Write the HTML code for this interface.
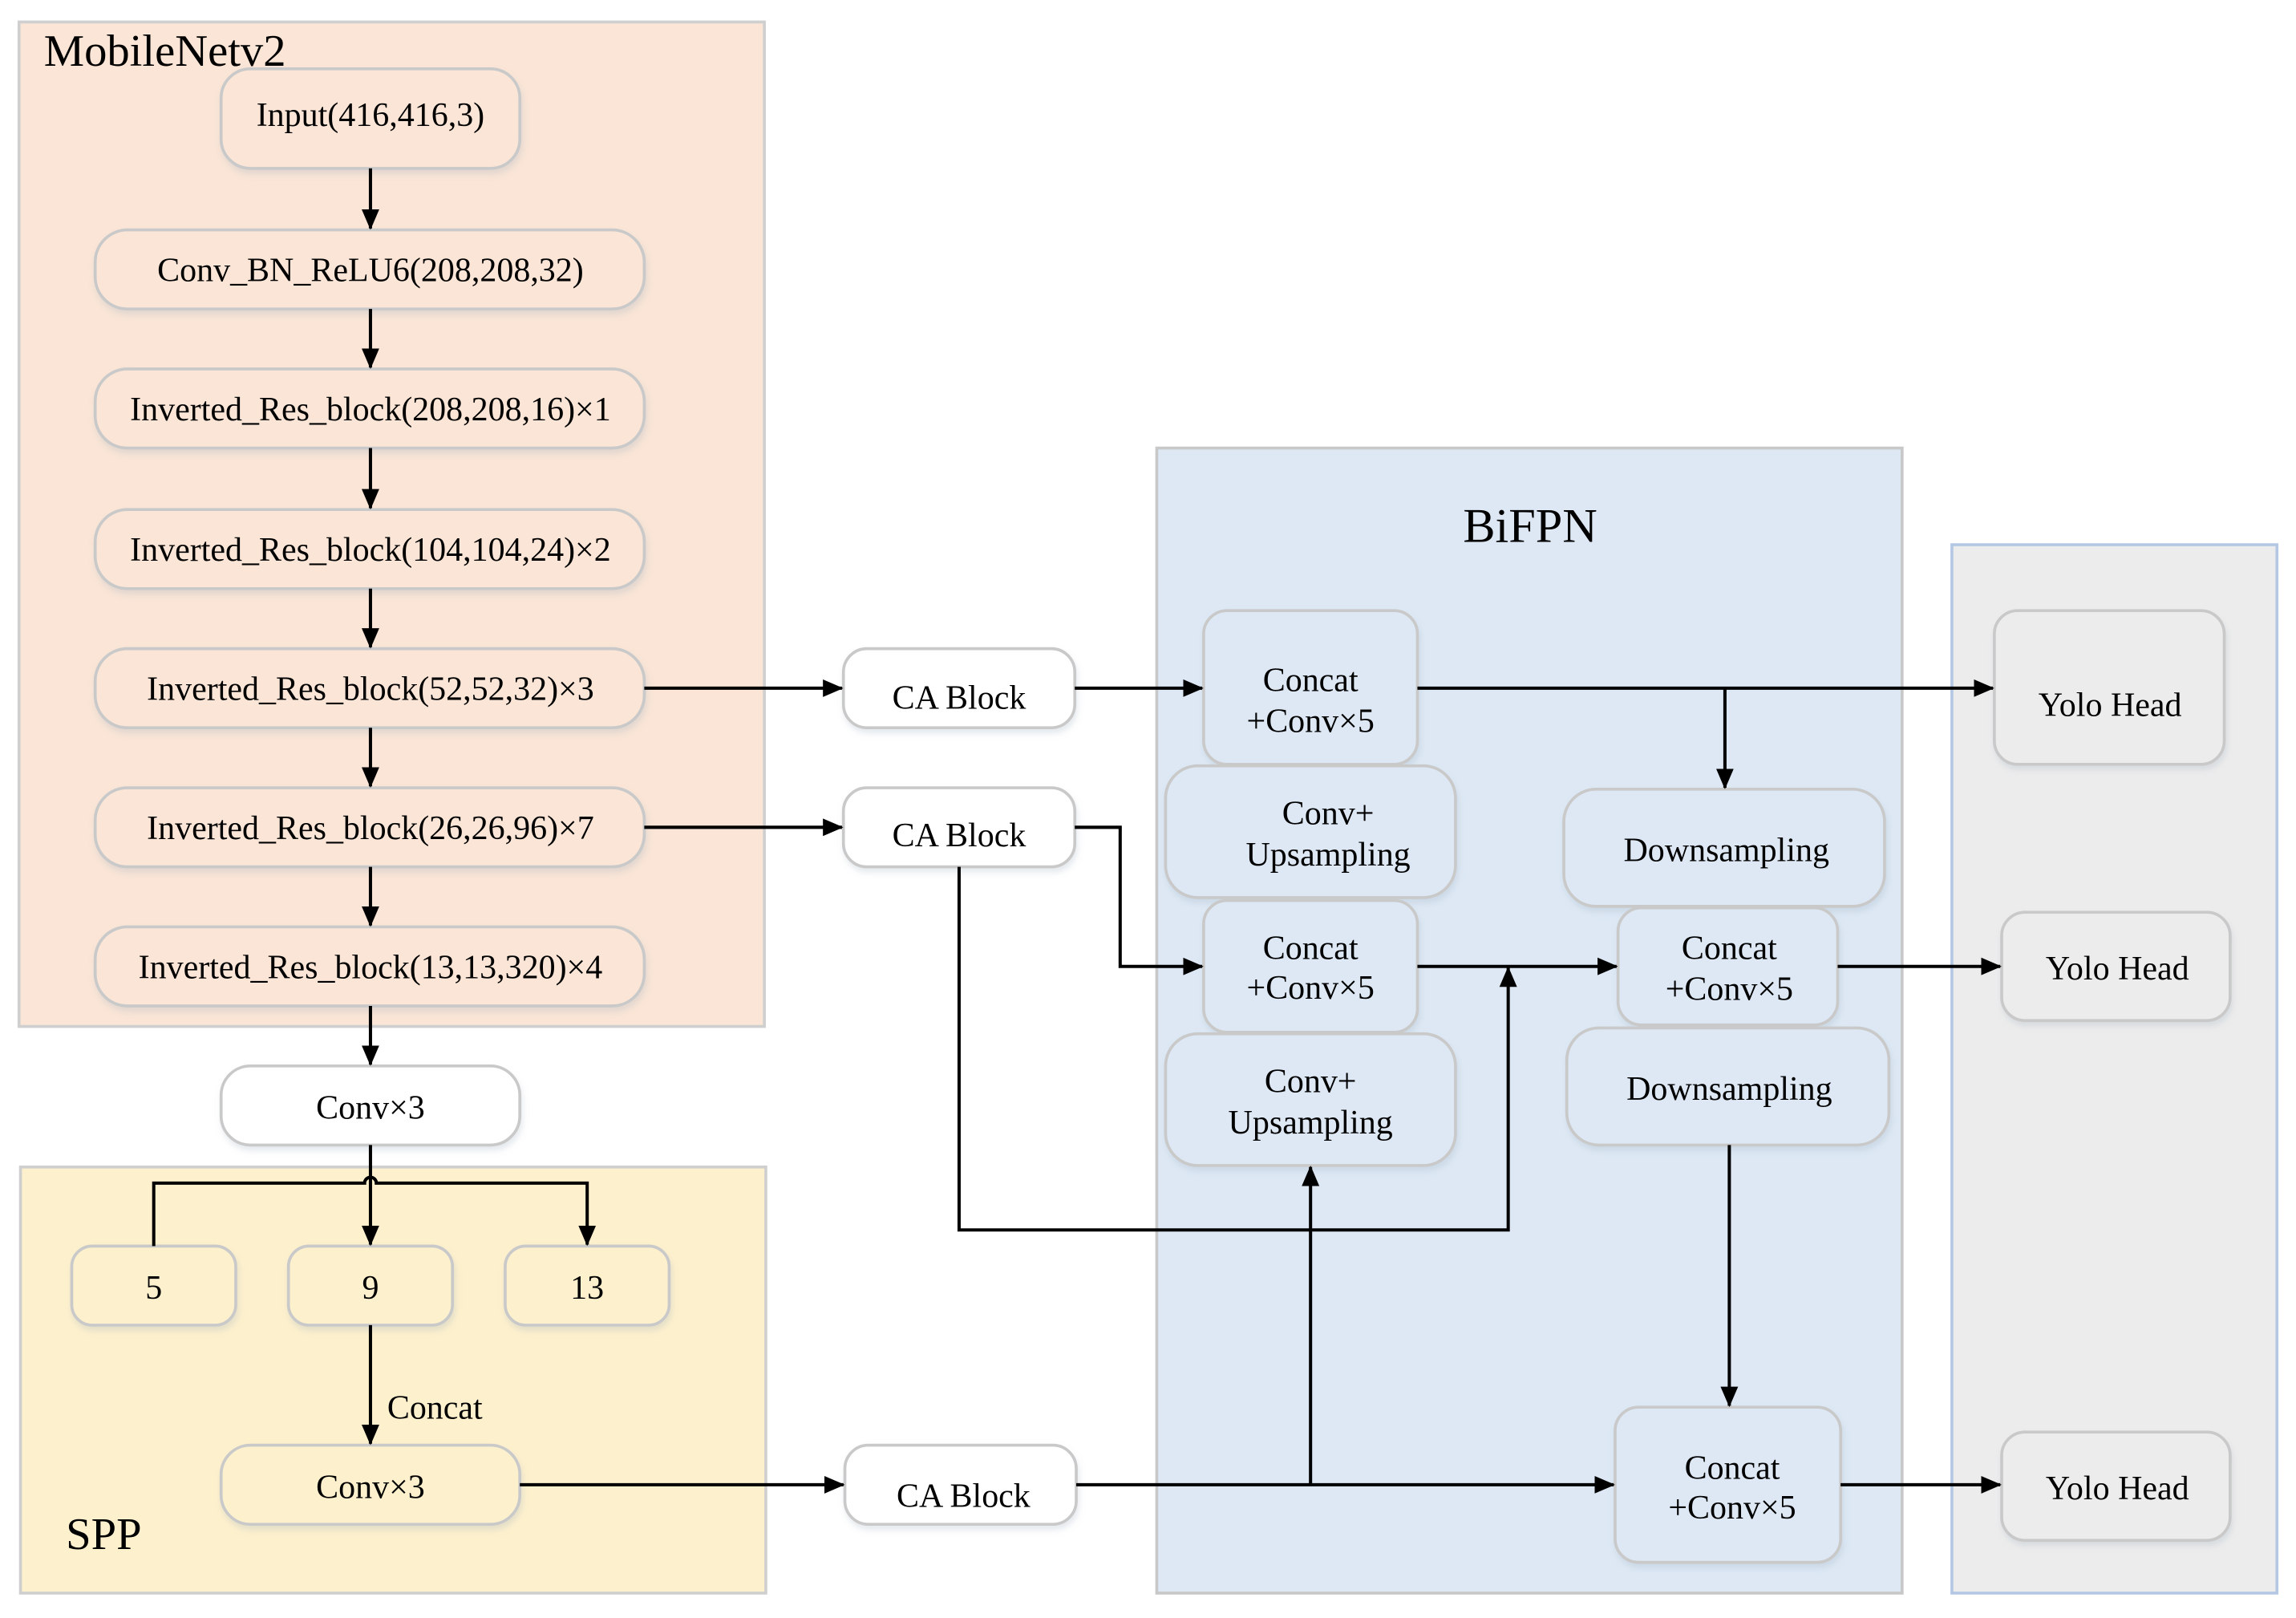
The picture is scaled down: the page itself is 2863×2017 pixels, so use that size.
<!DOCTYPE html>
<html><head><meta charset="utf-8"><style>
html,body{margin:0;padding:0;background:#fff;}
svg{display:block;}
text{font-family:"Liberation Serif",serif;fill:#000;}
</style></head><body>
<svg width="2863" height="2017" viewBox="0 0 1568 1105" preserveAspectRatio="none" xmlns="http://www.w3.org/2000/svg">
<defs>
<marker id="a" markerWidth="14" markerHeight="14" refX="13" refY="7" orient="auto" markerUnits="userSpaceOnUse" viewBox="0 0 14 14">
<path d="M0,1 L14,7 L0,13 z" fill="#000"/></marker>
<filter id="s" x="-10%" y="-10%" width="130%" height="140%"><feDropShadow dx="1" dy="3" stdDeviation="2" flood-color="#9ab" flood-opacity="0.25"/></filter>
</defs>
<rect x="13" y="15" width="509" height="686" fill="#fae5d6" stroke="#cfcfcf" stroke-width="2"/>
<rect x="14" y="797" width="509" height="291" fill="#fdf0cd" stroke="#cfcfcf" stroke-width="2"/>
<rect x="790" y="306" width="509" height="782" fill="#dde8f4" stroke="#c8c8c8" stroke-width="2"/>
<rect x="1333" y="372" width="222" height="716" fill="#ececec" stroke="#b4c8e4" stroke-width="2"/>
<text x="30" y="45" font-size="31">MobileNetv2</text>
<text x="45" y="1058" font-size="31">SPP</text>
<text x="1045" y="370" font-size="33" text-anchor="middle">BiFPN</text>

<g stroke="#c9c9c9" stroke-width="2" filter="url(#s)">
<rect x="151" y="47" width="204" height="68" rx="20" fill="#fae5d6"/>
<rect x="65" y="157" width="375" height="54" rx="22" fill="#fae5d6"/>
<rect x="65" y="252" width="375" height="54" rx="22" fill="#fae5d6"/>
<rect x="65" y="348" width="375" height="54" rx="22" fill="#fae5d6"/>
<rect x="65" y="443" width="375" height="54" rx="22" fill="#fae5d6"/>
<rect x="65" y="538" width="375" height="54" rx="22" fill="#fae5d6"/>
<rect x="65" y="633" width="375" height="54" rx="22" fill="#fae5d6"/>
<rect x="151" y="728" width="204" height="54" rx="20" fill="#fff"/>
<rect x="49" y="851" width="112" height="54" rx="14" fill="#fdf0cd"/>
<rect x="197" y="851" width="112" height="54" rx="14" fill="#fdf0cd"/>
<rect x="345" y="851" width="112" height="54" rx="14" fill="#fdf0cd"/>
<rect x="151" y="987" width="204" height="54" rx="20" fill="#fdf0cd"/>
<rect x="576" y="443" width="158" height="54" rx="16" fill="#fff"/>
<rect x="576" y="538" width="158" height="54" rx="16" fill="#fff"/>
<rect x="577" y="987" width="158" height="54" rx="16" fill="#fff"/>
<rect x="822" y="417" width="146" height="105" rx="16" fill="#dde8f4"/>
<rect x="796" y="523" width="198" height="90" rx="22" fill="#dde8f4"/>
<rect x="822" y="615" width="146" height="90" rx="16" fill="#dde8f4"/>
<rect x="796" y="706" width="198" height="90" rx="22" fill="#dde8f4"/>
<rect x="1068" y="539" width="219" height="80" rx="22" fill="#dde8f4"/>
<rect x="1105" y="620" width="150" height="80" rx="16" fill="#dde8f4"/>
<rect x="1070" y="702" width="220" height="80" rx="22" fill="#dde8f4"/>
<rect x="1103" y="961" width="154" height="106" rx="16" fill="#dde8f4"/>
<rect x="1362" y="417" width="157" height="105" rx="16" fill="#ececec"/>
<rect x="1367" y="623" width="156" height="74" rx="16" fill="#ececec"/>
<rect x="1367" y="978" width="156" height="74" rx="16" fill="#ececec"/>
</g>

<g font-size="23" text-anchor="middle">
<text x="253" y="86">Input(416,416,3)</text>
<text x="253" y="192">Conv_BN_ReLU6(208,208,32)</text>
<text x="253" y="287">Inverted_Res_block(208,208,16)×1</text>
<text x="253" y="383">Inverted_Res_block(104,104,24)×2</text>
<text x="253" y="478">Inverted_Res_block(52,52,32)×3</text>
<text x="253" y="573">Inverted_Res_block(26,26,96)×7</text>
<text x="253" y="668">Inverted_Res_block(13,13,320)×4</text>
<text x="253" y="764">Conv×3</text>
<text x="105" y="887">5</text>
<text x="253" y="887">9</text>
<text x="401" y="887">13</text>
<text x="297" y="969">Concat</text>
<text x="253" y="1023">Conv×3</text>
<text x="655" y="484">CA Block</text>
<text x="655" y="578">CA Block</text>
<text x="658" y="1029">CA Block</text>
<text x="895" y="472">Concat</text>
<text x="895" y="500">+Conv×5</text>
<text x="907" y="563">Conv+</text>
<text x="907" y="591">Upsampling</text>
<text x="895" y="655">Concat</text>
<text x="895" y="682">+Conv×5</text>
<text x="895" y="746">Conv+</text>
<text x="895" y="774">Upsampling</text>
<text x="1179" y="588">Downsampling</text>
<text x="1181" y="655">Concat</text>
<text x="1181" y="683">+Conv×5</text>
<text x="1181" y="751">Downsampling</text>
<text x="1183" y="1010">Concat</text>
<text x="1183" y="1037">+Conv×5</text>
<text x="1441" y="489">Yolo Head</text>
<text x="1446" y="669">Yolo Head</text>
<text x="1446" y="1024">Yolo Head</text>
</g>

<g stroke="#000" stroke-width="2.2" fill="none">
<line x1="253" y1="115" x2="253" y2="156" marker-end="url(#a)"/>
<line x1="253" y1="211" x2="253" y2="251" marker-end="url(#a)"/>
<line x1="253" y1="306" x2="253" y2="347" marker-end="url(#a)"/>
<line x1="253" y1="402" x2="253" y2="442" marker-end="url(#a)"/>
<line x1="253" y1="497" x2="253" y2="537" marker-end="url(#a)"/>
<line x1="253" y1="592" x2="253" y2="632" marker-end="url(#a)"/>
<line x1="253" y1="687" x2="253" y2="727" marker-end="url(#a)"/>
<line x1="253" y1="782" x2="253" y2="850" marker-end="url(#a)"/>
<path d="M105,851 V808 H249 A4,4 0 0 1 257,808 H401 V850" marker-end="url(#a)"/>
<line x1="253" y1="905" x2="253" y2="986" marker-end="url(#a)"/>
<line x1="440" y1="470" x2="575" y2="470" marker-end="url(#a)"/>
<line x1="440" y1="565" x2="575" y2="565" marker-end="url(#a)"/>
<line x1="734" y1="470" x2="821" y2="470" marker-end="url(#a)"/>
<path d="M734,565 H765 V660 H821" marker-end="url(#a)"/>
<path d="M655,592 V840 H1030 V661" marker-end="url(#a)"/>
<line x1="968" y1="470" x2="1361" y2="470" marker-end="url(#a)"/>
<line x1="1178" y1="470" x2="1178" y2="538" marker-end="url(#a)"/>
<line x1="968" y1="660" x2="1104" y2="660" marker-end="url(#a)"/>
<line x1="1255" y1="660" x2="1366" y2="660" marker-end="url(#a)"/>
<line x1="355" y1="1014" x2="576" y2="1014" marker-end="url(#a)"/>
<line x1="735" y1="1014" x2="1102" y2="1014" marker-end="url(#a)"/>
<line x1="895" y1="1014" x2="895" y2="797" marker-end="url(#a)"/>
<line x1="1181" y1="782" x2="1181" y2="960" marker-end="url(#a)"/>
<line x1="1257" y1="1014" x2="1366" y2="1014" marker-end="url(#a)"/>
</g>
</svg>
</body></html>
